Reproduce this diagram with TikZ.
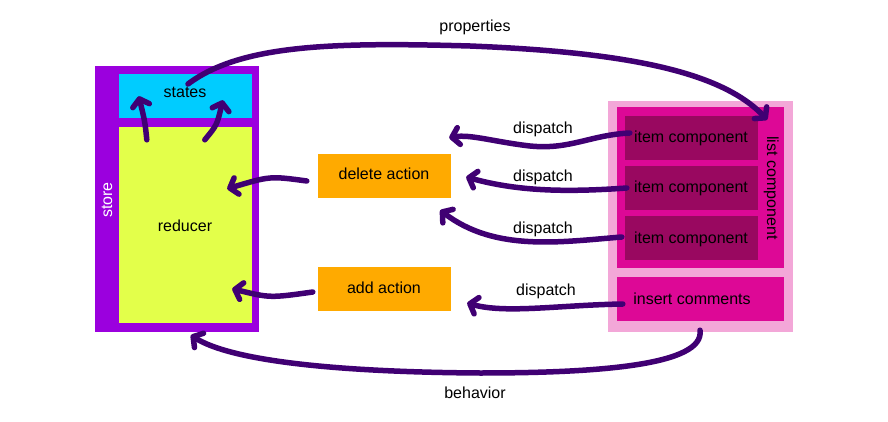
\documentclass[tikz,border=0pt]{standalone}
\usepackage{fontspec}
\setmainfont{Liberation Sans}
\usetikzlibrary{arrows.meta,calc}
\definecolor{storec}{RGB}{155,0,222}
\definecolor{statec}{RGB}{0,204,255}
\definecolor{reducerc}{RGB}{227,255,74}
\definecolor{actionc}{RGB}{255,170,0}
\definecolor{listc}{RGB}{243,167,216}
\definecolor{innerc}{RGB}{221,8,150}
\definecolor{itemc}{RGB}{153,8,96}
\definecolor{penc}{RGB}{64,0,115}
\tikzset{
  lbl/.style={font=\fontsize{16}{19}\selectfont, text=black, inner sep=0pt, text height=11.5pt, text depth=3.5pt},
  box/.style={inner sep=0pt, draw=none},
  pen/.style={draw=penc, line width=5.5pt, line cap=round, line join=round,
    -{Straight Barb[length=7pt,width=17pt,round]}},
}
\begin{document}
\begin{tikzpicture}[x=1pt,y=-1pt]
\useasboundingbox[fill=white] (0,0) rectangle (888,422);
% store side
\node[box, fill=storec, minimum width=164pt, minimum height=266pt] (store) at (177,199) {};
\node[box, fill=statec, minimum width=133pt, minimum height=44pt] (states) at (185.5,96) {};
\node[box, fill=reducerc, minimum width=133pt, minimum height=196pt] (reducer) at (185.5,225) {};
\node[lbl, text=white, rotate=90] (storelbl) at (108,200) {store};
\node[lbl] (stateslbl) at (185,94) {states};
\node[lbl] (reducerlbl) at (185,227) {reducer};
% actions
\node[box, fill=actionc, minimum width=133pt, minimum height=44pt] (delete) at (384.5,176) {};
\node[box, fill=actionc, minimum width=133pt, minimum height=44pt] (add) at (384.5,289) {};
\node[lbl] (deletelbl) at (384,176) {delete action};
\node[lbl] (addlbl) at (384,289) {add action};
% list component
\node[box, fill=listc, minimum width=185pt, minimum height=231pt] (list) at (700.5,216.5) {};
\node[box, fill=innerc, minimum width=167pt, minimum height=161pt] (inner) at (700.5,187.5) {};
\node[box, fill=itemc, minimum width=133pt, minimum height=44pt] (item1) at (691.5,138) {};
\node[box, fill=itemc, minimum width=133pt, minimum height=44pt] (item2) at (691.5,188) {};
\node[box, fill=itemc, minimum width=133pt, minimum height=44pt] (item3) at (691.5,238) {};
\node[box, fill=innerc, minimum width=167pt, minimum height=44pt] (insert) at (700.5,299) {};
\node[lbl] (item1lbl) at (691,139) {item component};
\node[lbl] (item2lbl) at (691,189) {item component};
\node[lbl] (item3lbl) at (691,239) {item component};
\node[lbl] (insertlbl) at (692,300) {insert comments};
\node[lbl, rotate=-90] (listlbl) at (771,188) {list component};
% labels
\node[lbl] (proplbl) at (475,28) {properties};
\node[lbl] (d1lbl) at (543,130) {dispatch};
\node[lbl] (d2lbl) at (543,178) {dispatch};
\node[lbl] (d3lbl) at (543,229) {dispatch};
\node[lbl] (d4lbl) at (546,291) {dispatch};
\node[lbl] (behlbl) at (475,394) {behavior};
% connector ends
\coordinate (pA) at ($(states.center)+(2.5,-12)$);
\coordinate (pB) at ($(item1.north east)+(9,4)$);
\coordinate (sLa) at ($(reducer.north west)+(28,13)$);
\coordinate (sLb) at ($(states.south west)+(20,-22)$);
\coordinate (sRa) at ($(reducer.north west)+(86,13)$);
\coordinate (sRb) at ($(states.south west)+(104,-18)$);
\coordinate (dA) at ($(delete.west)+(-11,5)$);
\coordinate (dB) at ($(reducer.north east)+(-25,62)$);
\coordinate (aA) at ($(add.west)+(-5,3)$);
\coordinate (aB) at ($(reducer.north east)+(-20,162)$);
\coordinate (i1) at ($(item1.west)+(5,-5)$);
\coordinate (i1e) at ($(delete.north east)+(-2,-16)$);
\coordinate (i2) at ($(item2.west)+(2,0)$);
\coordinate (i2e) at ($(delete.east)+(15,1)$);
\coordinate (i3) at ($(item3.west)+(-3,-1)$);
\coordinate (i3e) at ($(delete.south east)+(-11,12)$);
\coordinate (ic) at ($(insert.west)+(6,5)$);
\coordinate (ice) at ($(add.east)+(16,14)$);
\coordinate (bA) at ($(list.south)+(-0.5,-2)$);
\coordinate (bB) at ($(store.south west)+(96,3)$);
% connectors
\draw[pen] (pA) .. controls (240,45) and (330,42) .. (470,46)
                .. controls (620,52) and (720,70) .. (pB);
\draw[pen] (sLa) .. controls (145,122) .. (sLb);
\draw[pen] (sRa) .. controls (217,125) .. (sRb);
\draw[pen] (dA) .. controls (270,176) .. (dB);
\draw[pen] (aA) .. controls (270,298) .. (aB);
\draw[pen] (i1) .. controls (590,135) and (570,150) .. (530,146)
                .. controls (495,142) and (470,134) .. (i1e);
\draw[pen] (i2) .. controls (570,192) and (520,192) .. (i2e);
\draw[pen] (i3) .. controls (560,242) and (495,252) .. (i3e);
\draw[pen] (ic) .. controls (560,305) and (505,314) .. (ice);
\draw[pen] (bA) .. controls (705,365) and (600,373) .. (480,373)
                .. controls (330,372) and (230,360) .. (bB);
\end{tikzpicture}
\end{document}
